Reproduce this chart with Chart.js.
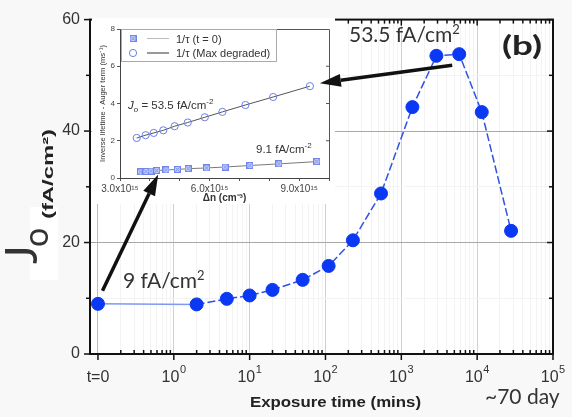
<!DOCTYPE html>
<html>
<head>
<meta charset="utf-8">
<script src="https://cdn.jsdelivr.net/npm/chart.js@4.4.1/dist/chart.umd.min.js"></script>
<style>
  html, body { margin: 0; padding: 0; background: #f8f8f8; }
  #wrap { position: relative; width: 572px; height: 417px; overflow: hidden; }
  #wrap canvas { position: absolute; left: 0; top: 0; }
</style>
</head>
<body>
<div id="wrap">
  <canvas id="main" width="572" height="417"></canvas>
  <canvas id="inset" width="572" height="417"></canvas>
</div>
<script>
// ---- Main panel: saturation current density vs exposure time ----
const exposureMins = [0, 2, 5, 10, 20, 50, 110, 230, 540, 1400, 2900, 5800, 11500, 28000];
const joValues     = [9, 8.9, 9.9, 10.5, 11.5, 13.3, 15.8, 20.4, 28.8, 44.3, 53.5, 53.8, 43.4, 22.1];
const T0_POSITION  = 0.1;            // where t = 0 sits on the log axis
const xMajorTicks  = [0.1, 1, 10, 100, 1000, 10000, 100000];
const xMajorBase   = ['t=0', '10', '10', '10', '10', '10', '10'];
const xMajorExp    = ['', '0', '1', '2', '3', '4', '5'];
const yLabelledTicks = [0, 20, 40, 60];

// ---- Inset: inverse lifetime minus Auger term vs injection level (Δn in 1e15 cm^-3) ----
const dnInitial      = [3.69, 3.87, 4.04, 4.23, 4.54, 4.92, 5.28, 5.90, 6.52, 7.35, 8.32, 9.59];
const invTauInitial  = [0.33, 0.35, 0.37, 0.40, 0.43, 0.46, 0.50, 0.54, 0.59, 0.67, 0.76, 0.88];
const dnDegraded     = [3.56, 3.86, 4.13, 4.45, 4.83, 5.27, 5.84, 6.43, 7.20, 8.13, 9.36];
const invTauDegraded = [2.15, 2.30, 2.42, 2.56, 2.78, 2.98, 3.26, 3.55, 3.92, 4.35, 4.93];
const dnLabelledTicks = [3, 6, 9];
const dnTickText = { 3: '3.0x10\u00B9\u2075', 6: '6.0x10\u00B9\u2075', 9: '9.0x10\u00B9\u2075' };

const SANS = "'Liberation Sans', Arial, sans-serif";
Chart.defaults.font.family = SANS;
Chart.defaults.color = '#333';

const xMinorTicks = [];
for (let e = -1; e <= 4; e++) for (let m = 2; m <= 9; m++) xMinorTicks.push(m * Math.pow(10, e));

function drawRich(ctx, x, y, parts) {
  let cx = x;
  for (const p of parts) {
    ctx.font = p.font;
    cx += p.dx || 0;
    ctx.fillText(p.text, cx, y + (p.dy || 0));
    cx += ctx.measureText(p.text).width;
  }
  return cx;
}
function richWidth(ctx, parts) {
  let w = 0;
  for (const p of parts) { ctx.font = p.font; w += ctx.measureText(p.text).width + (p.dx || 0); }
  return w;
}
function drawStretched(ctx, text, x, y, font, targetW, align, rot) {
  ctx.save();
  ctx.font = font;
  const w = ctx.measureText(text).width;
  ctx.translate(x, y);
  if (rot) ctx.rotate(rot);
  ctx.scale(targetW / w, 1);
  ctx.textAlign = align || 'left';
  ctx.fillText(text, 0, 0);
  ctx.restore();
}
function arrow(ctx, x0, y0, x1, y1) {
  const ang = Math.atan2(y1 - y0, x1 - x0), L = 21, W = 6.5;
  const bx = x1 - L * Math.cos(ang), by = y1 - L * Math.sin(ang);
  ctx.save();
  ctx.strokeStyle = ctx.fillStyle = '#111';
  ctx.lineWidth = 3.5;
  ctx.beginPath(); ctx.moveTo(x0, y0); ctx.lineTo(bx, by); ctx.stroke();
  ctx.beginPath();
  ctx.moveTo(x1, y1);
  ctx.lineTo(bx + W * Math.sin(ang), by - W * Math.cos(ang));
  ctx.lineTo(bx - W * Math.sin(ang), by + W * Math.cos(ang));
  ctx.closePath(); ctx.fill();
  ctx.restore();
}

// ---------------- main chart ----------------
const mainFrame = {
  id: 'mainFrame',
  beforeDraw(chart) {
    const ctx = chart.ctx, a = chart.chartArea;
    ctx.save();
    ctx.fillStyle = '#f8f8f8'; ctx.fillRect(0, 0, chart.width, chart.height);
    ctx.fillStyle = '#ffffff';
    ctx.fillRect(a.left, a.top, a.width, a.height);
    ctx.fillRect(30, 207, 28, 73);
    ctx.restore();
  },
  afterDraw(chart) {
    const ctx = chart.ctx, a = chart.chartArea, xs = chart.scales.x, ys = chart.scales.y;
    ctx.save();
    ctx.strokeStyle = '#111'; ctx.lineWidth = 1.5;
    const seg = (x0, y0, x1, y1) => { ctx.beginPath(); ctx.moveTo(x0, y0); ctx.lineTo(x1, y1); ctx.stroke(); };
    xMajorTicks.forEach(v => {
      const px = xs.getPixelForValue(v);
      seg(px, a.bottom, px, a.bottom + 6);
      seg(px, a.top, px, a.top + 6);
    });
    xMinorTicks.forEach(v => {
      const px = xs.getPixelForValue(v);
      seg(px, a.bottom, px, a.bottom - 4);
      seg(px, a.top, px, a.top + 4);
    });
    for (let v = 0; v <= 60; v += 10) {
      const py = ys.getPixelForValue(v), len = v % 20 === 0 ? 6 : 4;
      seg(a.left - len, py, a.left, py);
      seg(a.right - len, py, a.right, py);
    }
    ctx.lineWidth = 2;
    ctx.strokeRect(a.left, a.top, a.width, a.height);

    // x tick labels with superscript exponents
    ctx.fillStyle = '#333';
    xMajorTicks.forEach((v, i) => {
      const parts = [{ text: xMajorBase[i], font: '16px ' + SANS }];
      if (xMajorExp[i]) parts.push({ text: xMajorExp[i], font: '11px ' + SANS, dy: -9, dx: 0.5 });
      const w = richWidth(ctx, parts);
      drawRich(ctx, xs.getPixelForValue(v) - w / 2, 382, parts);
    });

    // axis titles
    ctx.fillStyle = '#222';
    ctx.textBaseline = 'alphabetic';
    drawStretched(ctx, 'Exposure time (mins)', 335.5, 407, 'bold 15px ' + SANS, 171, 'center');
    ctx.textBaseline = 'middle';
    drawStretched(ctx, '(fA/cm\u00B2)', 49, 174, 'bold 15px ' + SANS, 90, 'center', -Math.PI / 2);
    ctx.textBaseline = 'alphabetic';
    ctx.fillStyle = '#333';
    ctx.save(); ctx.translate(37, 264); ctx.rotate(-Math.PI / 2);
    ctx.font = '44px Lato'; ctx.fillText('J', 0, 0); ctx.restore();
    ctx.save(); ctx.translate(48, 247); ctx.rotate(-Math.PI / 2);
    ctx.font = '34px Lato'; ctx.fillText('o', 0, 0); ctx.restore();

    // value notes
    ctx.fillStyle = '#333';
    drawRich(ctx, 349, 42, [{ text: '53.5 fA/cm', font: '21px Lato' }, { text: '2', font: '13px Lato', dy: -8 }]);
    drawRich(ctx, 123, 288, [{ text: '9 fA/cm', font: '21px Lato' }, { text: '2', font: '13px Lato', dy: -8 }]);
    drawRich(ctx, 485, 403.5, [{ text: '~70 day', font: '21px Lato' }]);
    ctx.fillStyle = '#222';
    drawStretched(ctx, '(b)', 502, 55, 'bold 27px Lato', 40, 'left');
    ctx.restore();
  }
};

const mainChart = new Chart(document.getElementById('main'), {
  type: 'line',
  data: {
    datasets: [{
      data: exposureMins.map((t, i) => ({ x: t === 0 ? T0_POSITION : t, y: joValues[i] })),
      borderColor: '#2f52e6',
      borderWidth: 1.5,
      pointRadius: 6.5,
      pointBackgroundColor: '#0b38f2',
      pointBorderColor: '#0b38f2',
      pointBorderWidth: 1,
      segment: {
        borderColor: c => c.p0DataIndex === 0 ? '#7f98f2' : '#2f52e6',
        borderDash: c => c.p0DataIndex === 0 ? [] : [8, 3]
      },
      clip: false
    }]
  },
  options: {
    animation: false,
    responsive: false,
    devicePixelRatio: 1,
    layout: { padding: { left: 0, right: 19, top: 16, bottom: 0 } },
    plugins: { legend: { display: false }, tooltip: { enabled: false } },
    scales: {
      x: {
        type: 'logarithmic',
        min: 0.0785,
        max: 100000,
        afterFit(s) { s.height = 63; },
        afterBuildTicks(s) {
          s.ticks = xMajorTicks.concat(xMinorTicks).sort((p, q) => p - q).map(v => ({ value: v }));
        },
        ticks: { display: false },
        grid: {
          drawTicks: false,
          lineWidth: 1,
          color: c => {
            const v = c.tick && c.tick.value;
            if (v === T0_POSITION) return '#bcbcbc';
            return xMajorTicks.includes(v) ? '#d0d0d0' : '#f3f3f3';
          }
        },
        border: { display: false }
      },
      y: {
        min: 0,
        max: 60,
        afterFit(s) { s.width = 90; },
        ticks: {
          stepSize: 10,
          padding: 10,
          font: { size: 16 },
          color: '#333',
          callback: v => yLabelledTicks.includes(v) ? String(v) : ''
        },
        grid: {
          drawTicks: false,
          color: c => {
            const v = c.tick && c.tick.value;
            if (v === 0 || v === 60) return 'rgba(0,0,0,0)';
            return v % 20 === 0 ? '#a8a8a8' : '#f3f3f3';
          }
        },
        border: { display: false }
      }
    }
  },
  plugins: [mainFrame]
});

// ---------------- inset chart ----------------
function crossedSquare(size, fill, stroke) {
  const c = document.createElement('canvas');
  c.width = c.height = size;
  const g = c.getContext('2d');
  g.fillStyle = fill; g.fillRect(0.5, 0.5, size - 1, size - 1);
  g.strokeStyle = stroke; g.lineWidth = 1; g.strokeRect(0.5, 0.5, size - 1, size - 1);
  g.beginPath();
  g.moveTo(1.5, 1.5); g.lineTo(size - 1.5, size - 1.5);
  g.moveTo(size - 1.5, 1.5); g.lineTo(1.5, size - 1.5);
  g.stroke();
  return c;
}
const xSquare = crossedSquare(7, '#c6d0f8', '#6f85ea');

const insetDecor = {
  id: 'insetDecor',
  beforeDraw(chart) {
    const ctx = chart.ctx;
    ctx.save();
    ctx.clearRect(0, 0, chart.width, chart.height);
    ctx.fillStyle = '#ffffff';
    ctx.fillRect(92, 18, 243, 186);
    ctx.restore();
  },
  afterDraw(chart) {
    const ctx = chart.ctx, a = chart.chartArea, ys = chart.scales.y;
    const ds = chart.data.datasets;
    ctx.save();
    ctx.strokeStyle = '#555'; ctx.lineWidth = 1;
    ctx.beginPath();
    ctx.moveTo(a.left, a.top + 0.5); ctx.lineTo(a.right + 0.5, a.top + 0.5); ctx.lineTo(a.right + 0.5, a.bottom);
    ctx.stroke();
    [2, 4, 6].forEach(v => {
      const py = ys.getPixelForValue(v);
      ctx.beginPath(); ctx.moveTo(a.right - 3, py); ctx.lineTo(a.right, py); ctx.stroke();
    });

    // legend
    ctx.strokeStyle = '#aaa';
    ctx.strokeRect(121.5, 29.5, 155, 32);
    const rows = [38.5, 53];
    rows.forEach((y, i) => {
      if (i === 0) ctx.drawImage(xSquare, 133 - 3.5, y - 3.5);
      else {
        ctx.strokeStyle = ds[1].pointBorderColor; ctx.lineWidth = 1;
        ctx.beginPath(); ctx.arc(133, y, 3.6, 0, Math.PI * 2); ctx.stroke();
      }
      ctx.strokeStyle = i === 0 ? '#bbbbbb' : '#333';
      ctx.lineWidth = 1;
      ctx.beginPath(); ctx.moveTo(147, y); ctx.lineTo(169, y); ctx.stroke();
      ctx.fillStyle = '#333';
      ctx.font = '11px ' + SANS;
      ctx.fillText(ds[i].label, 176, y + 4);
    });

    // fitted J0 notes
    ctx.fillStyle = '#333';
    drawRich(ctx, 128, 109, [
      { text: 'J', font: 'italic 11.5px ' + SANS },
      { text: 'o', font: 'italic 8px ' + SANS, dy: 3 },
      { text: ' = 53.5 fA/cm', font: '11.5px ' + SANS },
      { text: '-2', font: '8px ' + SANS, dy: -5 }
    ]);
    drawRich(ctx, 256, 153, [
      { text: '9.1 fA/cm', font: '11.5px ' + SANS },
      { text: '-2', font: '8px ' + SANS, dy: -5 }
    ]);

    // arrows linking main-panel points to the inset curves
    const mx = mainChart.scales.x, my = mainChart.scales.y;
    const ix = chart.scales.x, iy = chart.scales.y;
    const peak = mainChart.data.datasets[0].data[11];
    const start = mainChart.data.datasets[0].data[0];
    const degLast = ds[1].data[ds[1].data.length - 1];
    const initPt = ds[0].data[3];
    arrow(ctx,
      mx.getPixelForValue(peak.x) - 7, my.getPixelForValue(peak.y) + 11,
      ix.getPixelForValue(degLast.x) + 10, iy.getPixelForValue(degLast.y) - 3);
    arrow(ctx,
      mx.getPixelForValue(start.x) + 4.5, my.getPixelForValue(start.y) - 13,
      ix.getPixelForValue(initPt.x) + 1.5, iy.getPixelForValue(initPt.y) + 4);
    ctx.restore();
  }
};

const insetChart = new Chart(document.getElementById('inset'), {
  type: 'scatter',
  data: {
    datasets: [
      {
        label: '1/\u03C4 (t = 0)',
        data: dnInitial.map((d, i) => ({ x: d, y: invTauInitial[i] })),
        showLine: true,
        borderColor: '#7a7a7a',
        borderWidth: 1,
        pointStyle: xSquare,
        pointRadius: 3.5
      },
      {
        label: '1/\u03C4 (Max degraded)',
        data: dnDegraded.map((d, i) => ({ x: d, y: invTauDegraded[i] })),
        showLine: true,
        borderColor: '#555',
        borderWidth: 1,
        pointStyle: 'circle',
        pointRadius: 3.6,
        pointBorderColor: '#6b80ea',
        pointBackgroundColor: 'rgba(255,255,255,0)',
        pointBorderWidth: 1
      }
    ]
  },
  options: {
    animation: false,
    responsive: false,
    devicePixelRatio: 1,
    layout: { padding: { left: 92, top: 29, right: 243, bottom: 212 } },
    plugins: { legend: { display: false }, tooltip: { enabled: false } },
    scales: {
      x: {
        type: 'linear',
        min: 3,
        max: 10,
        afterFit(s) { s.height = 27; },
        ticks: {
          stepSize: 1,
          autoSkip: false,
          maxRotation: 0,
          padding: 2,
          font: { size: 10 },
          color: '#444',
          callback: v => dnLabelledTicks.includes(v) ? dnTickText[v] : ''
        },
        grid: { drawOnChartArea: false, tickLength: 3, color: '#555' },
        border: { color: '#444', width: 1 },
        title: {
          display: true,
          text: '\u0394n (cm\u207B\u00B3)',
          font: { size: 10, weight: 'bold' },
          color: '#333',
          padding: { top: 0, bottom: 1 }
        }
      },
      y: {
        min: 0,
        max: 8,
        afterFit(s) { s.width = 28; },
        ticks: { stepSize: 2, padding: 2, font: { size: 8 }, color: '#444' },
        grid: { drawOnChartArea: false, tickLength: 3, color: '#555' },
        border: { color: '#444', width: 1 },
        title: {
          display: true,
          text: 'Inverse lifetime - Auger term (ms\u207B\u00B9)',
          font: { size: 7.5 },
          color: '#333',
          padding: { top: 6.5, bottom: 0 }
        }
      }
    }
  },
  plugins: [insetDecor]
});
</script>
</body>
</html>
